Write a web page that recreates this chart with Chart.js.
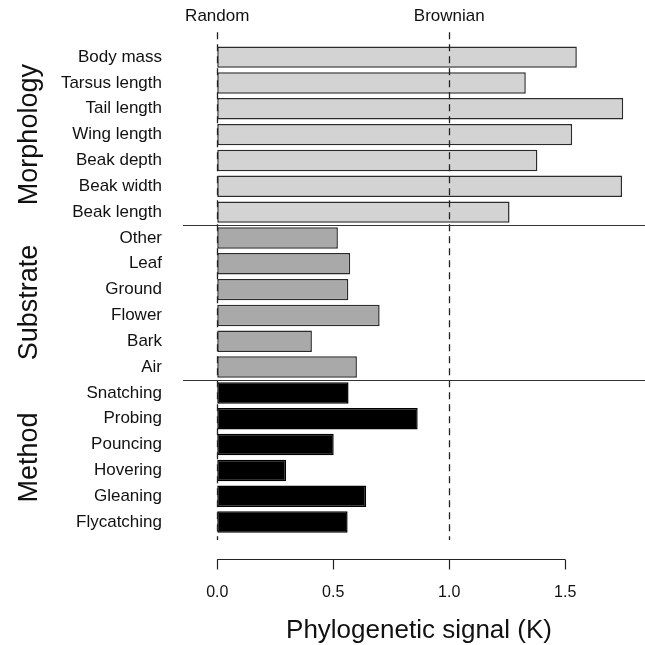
<!DOCTYPE html>
<html>
<head>
<meta charset="utf-8">
<script src="https://cdn.jsdelivr.net/npm/chart.js@4"></script>
<style>
  html, body { margin: 0; padding: 0; background: #fff; }
  #wrap { width: 645px; height: 645px; }
</style>
</head>
<body>
<div id="wrap"><canvas id="chart"></canvas></div>
<script>
// traits, top to bottom
const traits = [
  "Body mass", "Tarsus length", "Tail length", "Wing length", "Beak depth", "Beak width", "Beak length",
  "Other", "Leaf", "Ground", "Flower", "Bark", "Air",
  "Snatching", "Probing", "Pouncing", "Hovering", "Gleaning", "Flycatching"
];
// Blomberg's K per trait
const kValues = [
  1.55, 1.33, 1.75, 1.53, 1.38, 1.745, 1.26,
  0.52, 0.573, 0.565, 0.70, 0.408, 0.602,
  0.566, 0.864, 0.502, 0.297, 0.642, 0.562
];
// trait groups and how many traits each has
const groupNames = ["Morphology", "Substrate", "Method"];
const groupSizes = [7, 6, 6];
const xTicks = [0, 0.5, 1.0, 1.5];
const refLines = [0, 1];
const refLabels = ["Random", "Brownian"];

const groupFill = ["#d3d3d3", "#a9a9a9", "#000000"];
const groupBorder = ["#2b2b2b", "#2b2b2b", "#000000"];
const FONT = "'Liberation Sans', Arial, sans-serif";

// group index for each bar
const groupOf = [];
groupSizes.forEach((n, g) => { for (let i = 0; i < n; i++) groupOf.push(g); });

const extras = {
  id: "extras",
  afterDatasetsDraw(chart) {
    const { ctx, chartArea, scales } = chart;
    const x = scales.x, y = scales.y;
    ctx.save();

    // dashed reference lines with labels
    ctx.strokeStyle = "#222";
    ctx.lineWidth = 1.3;
    ctx.setLineDash([7, 5]);
    refLines.forEach((v) => {
      const px = Math.round(x.getPixelForValue(v)) + 0.5;
      ctx.beginPath();
      ctx.moveTo(px, chartArea.top - 12);
      ctx.lineTo(px, chartArea.bottom + 5);
      ctx.stroke();
    });
    ctx.setLineDash([]);
    ctx.fillStyle = "#111";
    ctx.font = "17px " + FONT;
    ctx.textAlign = "center";
    ctx.textBaseline = "middle";
    refLines.forEach((v, i) => {
      ctx.fillText(refLabels[i], x.getPixelForValue(v), 16);
    });

    // separators between groups
    ctx.strokeStyle = "#333";
    ctx.lineWidth = 1;
    let idx = 0;
    groupSizes.slice(0, -1).forEach((n) => {
      idx += n;
      const py = Math.round(y.getPixelForValue(idx - 0.5)) + 0.5;
      ctx.beginPath();
      ctx.moveTo(183, py);
      ctx.lineTo(chart.width, py);
      ctx.stroke();
    });

    // group labels, rotated
    ctx.font = "27px " + FONT;
    ctx.fillStyle = "#111";
    idx = 0;
    groupSizes.forEach((n, g) => {
      const yc = (y.getPixelForValue(idx) + y.getPixelForValue(idx + n - 1)) / 2;
      idx += n;
      ctx.save();
      ctx.translate(30, yc);
      ctx.rotate(-Math.PI / 2);
      ctx.textAlign = "center";
      ctx.textBaseline = "middle";
      ctx.fillText(groupNames[g], 0, 0);
      ctx.restore();
    });

    // R style x axis: line from first to last tick, ticks pointing down
    const ay = Math.round(chartArea.bottom + 24) + 0.5;
    ctx.strokeStyle = "#222";
    ctx.lineWidth = 1.2;
    ctx.beginPath();
    ctx.moveTo(x.getPixelForValue(xTicks[0]), ay);
    ctx.lineTo(x.getPixelForValue(xTicks[xTicks.length - 1]), ay);
    xTicks.forEach((t) => {
      const px = Math.round(x.getPixelForValue(t)) + 0.5;
      ctx.moveTo(px, ay);
      ctx.lineTo(px, ay + 10);
    });
    ctx.stroke();
    ctx.restore();
  }
};

new Chart(document.getElementById("chart"), {
  type: "bar",
  data: {
    labels: traits,
    datasets: [{
      data: kValues,
      backgroundColor: groupOf.map((g) => groupFill[g]),
      borderColor: groupOf.map((g) => groupBorder[g]),
      borderWidth: 1.5,
      borderSkipped: false,
      barPercentage: 1,
      categoryPercentage: 0.83
    }]
  },
  options: {
    indexAxis: "y",
    responsive: true,
    maintainAspectRatio: false,
    animation: false,
    // top margin comes from the y tick padding (half label height + padding)
    layout: { padding: { top: 0, right: 3, left: 0, bottom: 0 } },
    plugins: {
      legend: { display: false },
      tooltip: { enabled: false }
    },
    scales: {
      x: {
        type: "linear",
        min: -0.0916,
        max: 1.831,
        border: { display: false },
        grid: { display: false, drawTicks: false },
        afterFit: (scale) => { scale.height = 110; },
        afterBuildTicks: (scale) => { scale.ticks = xTicks.map((v) => ({ value: v })); },
        ticks: {
          padding: 48,
          color: "#111",
          font: { family: FONT, size: 16 },
          callback: (v) => Number(v).toFixed(1)
        },
        title: {
          display: true,
          text: "Phylogenetic signal (K)",
          color: "#111",
          font: { family: FONT, size: 26, lineHeight: 1.1 },
          padding: { top: 0, bottom: 0 }
        }
      },
      y: {
        border: { display: false },
        grid: { display: false, drawTicks: false },
        afterFit: (scale) => { scale.width = 196; },
        ticks: {
          padding: 34,
          autoSkip: false,
          color: "#111",
          font: { family: FONT, size: 17 }
        }
      }
    }
  },
  plugins: [extras]
});
</script>
</body>
</html>
